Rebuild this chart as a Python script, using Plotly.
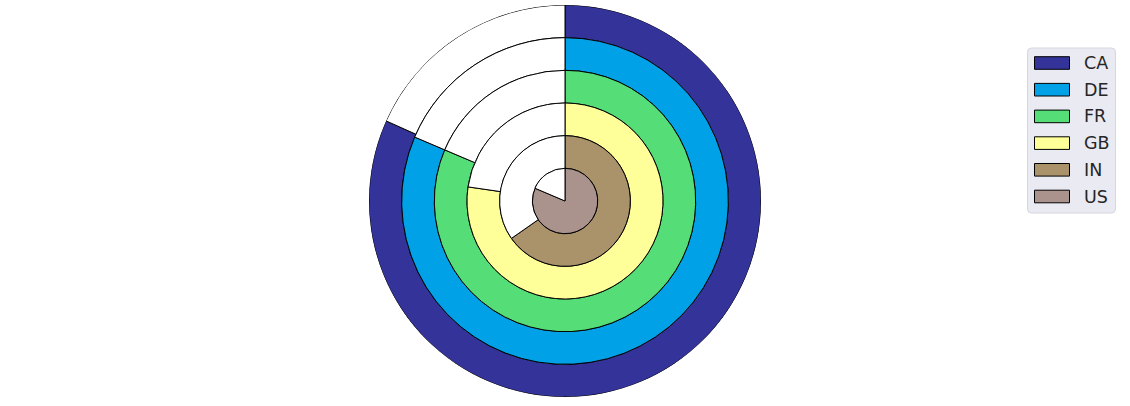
import plotly.graph_objects as go

# Data (share of full circle, percent), outer ring first
countries = ["CA", "DE", "FR", "GB", "IN", "US"]
shares = [81.7, 81.4, 81.4, 77.3, 65.3, 81.4]
colors = ["#333399", "#00A1E6", "#55DD77", "#FFFF99", "#AA926B", "#AA928D"]

W, H = 1130, 406
n = len(countries)

fig = go.Figure()
for i, (c, s, col) in enumerate(zip(countries, shares, colors)):
    deg = s * 3.6
    base = n - 1 - i
    fig.add_trace(go.Barpolar(
        r=[1], base=[base], theta=[deg / 2], width=[deg],
        marker=dict(color=col, line=dict(color="black", width=1)),
        name=c, showlegend=False,
    ))
for i, (c, s) in enumerate(zip(countries, shares)):
    deg = s * 3.6
    base = n - 1 - i
    fig.add_trace(go.Barpolar(
        r=[1], base=[base], theta=[deg + (360 - deg) / 2], width=[360 - deg],
        marker=dict(color="white", line=dict(color="black", width=1)),
        showlegend=False, hoverinfo="skip",
    ))

cx, cy, R = 565, 201, 196


def px(x):
    return x / W


def py(y):
    return 1 - y / H


# Custom legend (matplotlib/seaborn style)
shapes = []
annotations = []
L, T, Rr, B, rad = 1027.5, 48, 1115.5, 213, 4
path = (f"M {px(L + rad)},{py(T)} L {px(Rr - rad)},{py(T)} "
        f"Q {px(Rr)},{py(T)} {px(Rr)},{py(T + rad)} "
        f"L {px(Rr)},{py(B - rad)} Q {px(Rr)},{py(B)} {px(Rr - rad)},{py(B)} "
        f"L {px(L + rad)},{py(B)} Q {px(L)},{py(B)} {px(L)},{py(B - rad)} "
        f"L {px(L)},{py(T + rad)} Q {px(L)},{py(T)} {px(L + rad)},{py(T)} Z")
shapes.append(dict(type="path", xref="paper", yref="paper", path=path,
                   fillcolor="#EAEAF2", line=dict(color="#D6D6DE", width=1)))
for i, (c, col) in enumerate(zip(countries, colors)):
    y0 = 56.7 + i * 26.7
    shapes.append(dict(type="rect", xref="paper", yref="paper",
                       x0=px(1034.5), x1=px(1069.5), y0=py(y0), y1=py(y0 + 12.6),
                       fillcolor=col, line=dict(color="black", width=1)))
    annotations.append(dict(xref="paper", yref="paper", x=px(1081.5), y=py(y0 + 6.3),
                            text=c, showarrow=False, xanchor="left", yanchor="middle",
                            font=dict(size=17.5, family="DejaVu Sans", color="#262626")))

fig.update_layout(
    width=W, height=H,
    margin=dict(l=0, r=0, t=0, b=0),
    paper_bgcolor="white",
    showlegend=False,
    font=dict(family="DejaVu Sans", color="#262626"),
    polar=dict(
        domain=dict(x=[(cx - R) / W, (cx + R) / W],
                    y=[(H - cy - R) / H, (H - cy + R) / H]),
        bgcolor="white",
        hole=0,
        radialaxis=dict(range=[0, n], visible=False, showgrid=False),
        angularaxis=dict(rotation=90, direction="clockwise", visible=False,
                         showgrid=False, showline=False),
        bargap=0,
    ),
    shapes=shapes,
    annotations=annotations,
)
fig.write_html("out.html",
               config={"displayModeBar": False},
               post_script="document.body.style.margin='0px';document.body.style.overflow='hidden';")
